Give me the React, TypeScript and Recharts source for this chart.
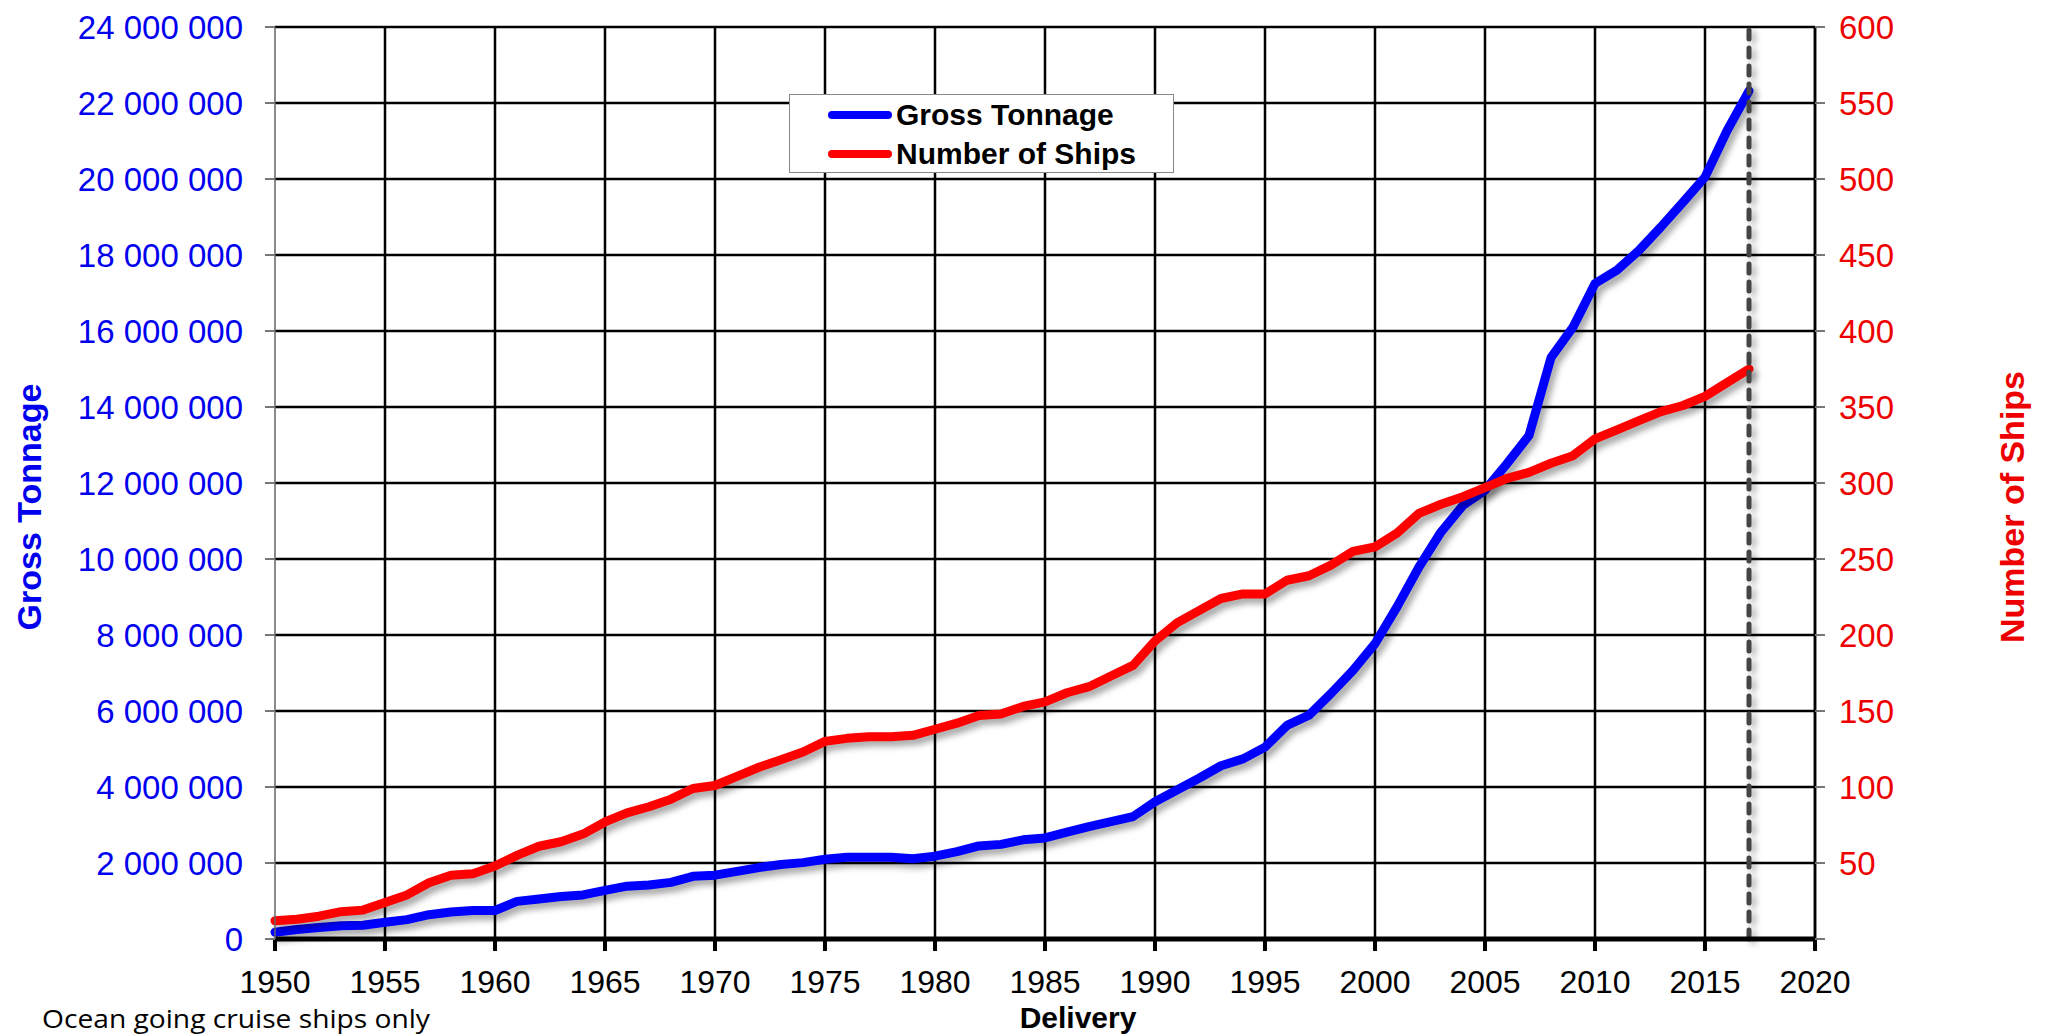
import React from "react";
import { LineChart, Line, XAxis, YAxis, CartesianGrid, ReferenceLine } from "recharts";

// delivery year
const years = [
  1950, 1951, 1952, 1953, 1954, 1955, 1956, 1957, 1958, 1959,
  1960, 1961, 1962, 1963, 1964, 1965, 1966, 1967, 1968, 1969,
  1970, 1971, 1972, 1973, 1974, 1975, 1976, 1977, 1978, 1979,
  1980, 1981, 1982, 1983, 1984, 1985, 1986, 1987, 1988, 1989,
  1990, 1991, 1992, 1993, 1994, 1995, 1996, 1997, 1998, 1999,
  2000, 2001, 2002, 2003, 2004, 2005, 2006, 2007, 2008, 2009,
  2010, 2011, 2012, 2013, 2014, 2015, 2016, 2017,
];

const grossTonnage = [
  180000, 250000, 300000, 350000, 360000, 440000, 510000, 640000, 710000, 750000,
  750000, 990000, 1050000, 1120000, 1160000, 1280000, 1390000, 1420000, 1490000, 1650000,
  1680000, 1780000, 1880000, 1960000, 2010000, 2100000, 2150000, 2150000, 2150000, 2110000,
  2180000, 2300000, 2450000, 2490000, 2610000, 2660000, 2810000, 2960000, 3090000, 3220000,
  3610000, 3920000, 4230000, 4560000, 4740000, 5050000, 5620000, 5890000, 6460000, 7070000,
  7770000, 8740000, 9790000, 10710000, 11410000, 11810000, 12510000, 13250000, 15300000, 16100000,
  17250000, 17600000, 18120000, 18740000, 19390000, 20050000, 21270000, 22320000,
];

const numberOfShips = [
  12, 13, 15, 18, 19, 24, 29, 37, 42, 43,
  48, 55, 61, 64, 69, 77, 83, 87, 92, 99,
  101, 107, 113, 118, 123, 130, 132, 133, 133, 134,
  138, 142, 147, 148, 153, 156, 162, 166, 173, 180,
  196, 208, 216, 224, 227, 227, 236, 239, 246, 255,
  258, 267, 280, 286, 291, 297, 303, 307, 313, 318,
  329, 335, 341, 347, 351, 357, 366, 375,
];

const yearTicks = [1950, 1955, 1960, 1965, 1970, 1975, 1980, 1985, 1990, 1995, 2000, 2005, 2010, 2015, 2020];
const tonnageTicks = [
  0, 2000000, 4000000, 6000000, 8000000, 10000000, 12000000,
  14000000, 16000000, 18000000, 20000000, 22000000, 24000000,
];
const shipTicks = [0, 50, 100, 150, 200, 250, 300, 350, 400, 450, 500, 550, 600];
const lastDelivery = 2017;

const series = [
  { key: "gt", name: "Gross Tonnage", color: "#0000ff", axis: "left" },
  { key: "ships", name: "Number of Ships", color: "#ff0000", axis: "right" },
];

const data = years.map((year, i) => ({ year, gt: grossTonnage[i], ships: numberOfShips[i] }));

const FONT = '"Liberation Sans", Arial, sans-serif';
const W = 2051;
const H = 1035;

const spaced = (v: number) => String(v).replace(/\B(?=(\d{3})+(?!\d))/g, " ");

const sideTitle = (text: string, color: string, side: "left" | "right") => (props: any) => {
  const vb = props.viewBox;
  const x = side === "left" ? vb.x + 29 : vb.x + 197;
  const y = vb.y + vb.height / 2 + 24;
  return (
    <text
      x={x}
      y={y}
      transform={`rotate(-90 ${x} ${y})`}
      textAnchor="middle"
      dominantBaseline="central"
      fill={color}
      fontSize={34}
      fontWeight="bold"
      fontFamily={FONT}
    >
      {text}
    </text>
  );
};

const bottomTitle = (props: any) => {
  const vb = props.viewBox;
  return (
    <g>
      <text x={vb.x + vb.width / 2 + 33} y={vb.y + 89} textAnchor="middle" fill="#000" fontSize={30} fontWeight="bold" fontFamily={FONT}>
        Delivery
      </text>
      <text x={vb.x - 233} y={vb.y + 89} fill="#000" fontSize={26} fontFamily='"Open Sans", "Noto Sans", sans-serif' textLength={388} lengthAdjust="spacingAndGlyphs">
        Ocean going cruise ships only
      </text>
    </g>
  );
};

export default function App() {
  return (
    <div style={{ width: W, height: H, position: "relative", background: "#fff" }}>
      <style>{`
        body { margin: 0; }
        .recharts-line-curve { filter: drop-shadow(4px 5px 3px rgba(0,0,0,0.35)); }
        .delivery-mark line { filter: drop-shadow(4px 3px 3px rgba(0,0,0,0.35)); }
      `}</style>
      <LineChart width={W} height={H} data={data} margin={{ top: 27, right: 0, bottom: 0, left: 0 }}>
        <CartesianGrid
          yAxisId="left"
          stroke="#000"
          strokeWidth={2.5}
          verticalValues={yearTicks.slice(1)}
        />
        <XAxis
          dataKey="year"
          type="number"
          domain={[1950, 2020]}
          ticks={yearTicks}
          height={96}
          axisLine={{ stroke: "#000", strokeWidth: 5 }}
          tickLine={{ stroke: "#000", strokeWidth: 4 }}
          tickSize={12}
          tickMargin={19}
          tick={{ fill: "#000", fontSize: 32, fontFamily: FONT }}
          interval={0}
          label={{ content: bottomTitle }}
        />
        <YAxis
          yAxisId="left"
          orientation="left"
          width={275}
          domain={[0, 24000000]}
          ticks={tonnageTicks}
          interval={0}
          tickFormatter={spaced}
          axisLine={{ stroke: "#666", strokeWidth: 1.5 }}
          tickLine={{ stroke: "#777", strokeWidth: 2 }}
          tickSize={10}
          tickMargin={22}
          tick={{ fill: "#0000ee", fontSize: 33, fontFamily: FONT }}
          label={{ content: sideTitle("Gross Tonnage", "#0000ee", "left") }}
        />
        <YAxis
          yAxisId="right"
          orientation="right"
          width={236}
          domain={[0, 600]}
          ticks={shipTicks}
          interval={0}
          tickFormatter={(v: number) => (v === 0 ? "" : String(v))}
          axisLine={{ stroke: "#000", strokeWidth: 2.5 }}
          tickLine={{ stroke: "#777", strokeWidth: 2 }}
          tickSize={10}
          tickMargin={14}
          tick={{ fill: "#ee0000", fontSize: 33, fontFamily: FONT }}
          label={{ content: sideTitle("Number of Ships", "#ee0000", "right") }}
        />
        {series.map((s) => (
          <Line
            key={s.key}
            yAxisId={s.axis}
            dataKey={s.key}
            name={s.name}
            type="linear"
            stroke={s.color}
            strokeWidth={9}
            strokeLinecap="round"
            strokeLinejoin="round"
            dot={false}
            activeDot={false}
            isAnimationActive={false}
          />
        ))}
        <ReferenceLine
          yAxisId="left"
          x={lastDelivery}
          className="delivery-mark"
          stroke="#444"
          strokeWidth={5}
          strokeDasharray="9 9"
          strokeLinecap="round"
        />
      </LineChart>
      <div
        style={{
          position: "absolute",
          left: 789,
          top: 94,
          width: 385,
          height: 79,
          boxSizing: "border-box",
          background: "#fff",
          border: "1.5px solid #888",
          fontFamily: FONT,
          fontWeight: "bold",
          fontSize: 30,
          color: "#000",
        }}
      >
        {series.map((s, i) => (
          <div
            key={s.key}
            style={{ position: "absolute", left: 38, top: 20 + i * 39 - 18, height: 36, display: "flex", alignItems: "center" }}
          >
            <span style={{ display: "inline-block", width: 64, height: 8, borderRadius: 4, background: s.color, marginRight: 4 }} />
            <span>{s.name}</span>
          </div>
        ))}
      </div>
    </div>
  );
}
